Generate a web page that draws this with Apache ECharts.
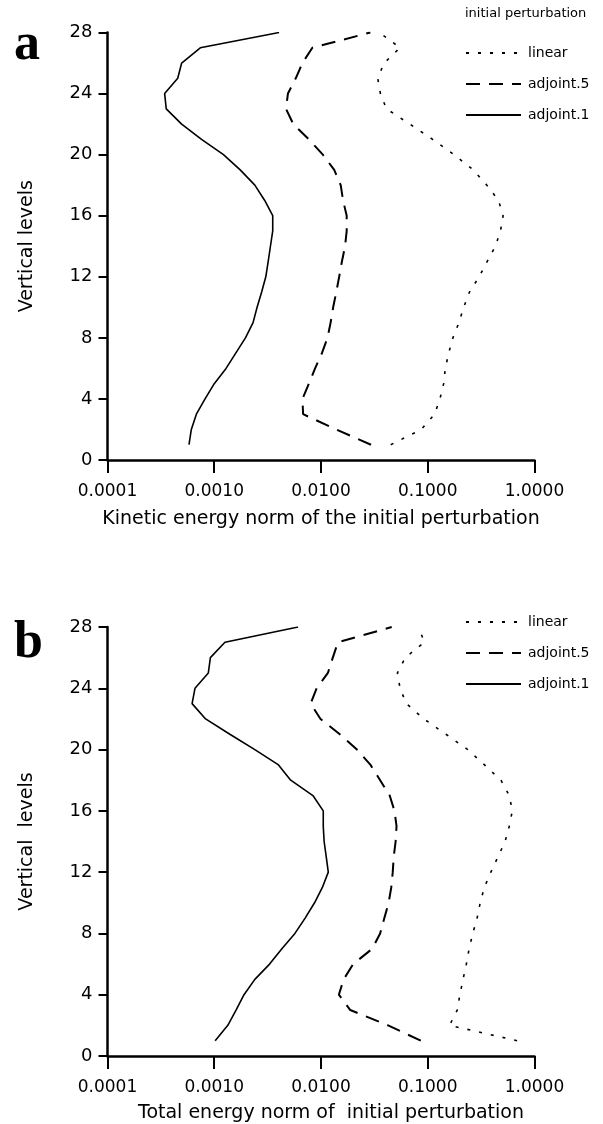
<!DOCTYPE html>
<html>
<head>
<meta charset="utf-8">
<script src="https://cdn.jsdelivr.net/npm/echarts@6/dist/echarts.min.js"></script>
<style>
html,body{margin:0;padding:0;background:#fff;}
#chart{width:603px;height:1124px;}
</style>
</head>
<body>
<div id="chart"></div>
<script>
// Vertical levels (1..28)
const levels = [1,2,3,4,5,6,7,8,9,10,11,12,13,14,15,16,17,18,19,20,21,22,23,24,25,26,27,28];
const xTicks = [0.0001, 0.001, 0.01, 0.1, 1];
const seriesNames = ['linear', 'adjoint.5', 'adjoint.1'];

// Panel a: kinetic energy norm of the initial perturbation
const linearA   = [0.045,0.087,0.116,0.13,0.141,0.146,0.157,0.172,0.196,0.217,0.246,0.303,0.36,0.43,0.48,0.508,0.46,0.358,0.267,0.176,0.111,0.068,0.041,0.036,0.034,0.039,0.055,0.0352];
const adjoint5A = [0.0294,0.0139,0.0068,0.0067,0.0077,0.0088,0.0102,0.0115,0.0123,0.013,0.0139,0.0148,0.0157,0.0168,0.0174,0.0174,0.0161,0.0153,0.0133,0.0104,0.0077,0.0055,0.0047,0.0049,0.0058,0.0067,0.0083,0.029];
const adjoint1A = [0.00058,0.00061,0.00068,0.00082,0.0010,0.00129,0.00159,0.00196,0.00231,0.00252,0.00278,0.00304,0.0032,0.00336,0.00353,0.00353,0.00297,0.0024,0.00175,0.00122,0.00076,0.000495,0.000355,0.000343,0.000455,0.000495,0.00074,0.00405];

// Panel b: total energy norm of initial perturbation
const linearB   = [0.687,0.16,0.189,0.2,0.214,0.23,0.244,0.264,0.29,0.31,0.339,0.39,0.455,0.53,0.58,0.62,0.58,0.485,0.34,0.237,0.148,0.092,0.063,0.055,0.052,0.0615,0.093,0.082];
const adjoint5B = [0.086,0.0425,0.0188,0.0147,0.0163,0.02,0.0302,0.0358,0.0392,0.043,0.0455,0.047,0.048,0.05,0.051,0.0488,0.044,0.0358,0.0291,0.0217,0.015,0.0099,0.008,0.0091,0.0116,0.0129,0.0144,0.046];
const adjoint1B = [0.00102,0.00134,0.0016,0.0019,0.0024,0.0033,0.0043,0.0057,0.0071,0.0087,0.0103,0.0117,0.0112,0.0107,0.0105,0.0105,0.0084,0.0052,0.004,0.0024,0.0014,0.00083,0.00062,0.00066,0.00088,0.00092,0.00126,0.0061];

const xNameA = 'Kinetic energy norm of the initial perturbation';
const xNameB = 'Total energy norm of  initial perturbation';
const yNameA = 'Vertical levels';
const yNameB = 'Vertical  levels';

const FONT = 'DejaVu Sans';
const pairs = (vals) => vals.map((v, i) => [v, levels[i]]);

const styles = {
  'linear':    { width: 1.6, type: [3, 9] },
  'adjoint.5': { width: 2, type: [14, 9] },
  'adjoint.1': { width: 1.6, type: 'solid' }
};

function mkSeries(name, vals, idx) {
  return {
    name: name, type: 'line', xAxisIndex: idx, yAxisIndex: idx,
    data: pairs(vals), symbol: 'none', smooth: false, animation: false,
    lineStyle: { color: '#000', width: styles[name].width, type: styles[name].type },
    itemStyle: { color: '#000' }
  };
}

function mkX(idx, name, nameGap, namePad) {
  return {
    type: 'log', logBase: 10, gridIndex: idx, min: xTicks[0], max: xTicks[xTicks.length - 1],
    axisLine: { show: true, onZero: false, lineStyle: { color: '#000', width: 2.5 } },
    axisTick: { show: true, inside: false, length: 13, lineStyle: { color: '#000', width: 2 } },
    axisLabel: { formatter: (v) => Number(v).toFixed(4), fontSize: 17, color: '#000', fontFamily: FONT, margin: 23 },
    splitLine: { show: false },
    name: name, nameLocation: 'middle', nameGap: nameGap,
    nameTextStyle: { fontSize: 19, color: '#000', fontFamily: FONT, padding: namePad }
  };
}

function mkY(idx, name) {
  return {
    type: 'value', gridIndex: idx, min: 0, max: 28, interval: 4,
    axisLine: { show: true, onZero: false, lineStyle: { color: '#000', width: 2.5 } },
    axisTick: { show: true, inside: false, length: 9, lineStyle: { color: '#000', width: 2 } },
    axisLabel: { fontSize: 18, color: '#000', fontFamily: FONT, margin: 15 },
    splitLine: { show: false },
    name: name, nameLocation: 'middle', nameGap: 71,
    nameTextStyle: { fontSize: 19, color: '#000', fontFamily: FONT }
  };
}

function mkLegend(top) {
  return {
    orient: 'vertical', left: 460, top: top, itemWidth: 55, itemHeight: 14, itemGap: 17,
    selectedMode: false,
    itemStyle: { color: 'rgba(0,0,0,0)', borderColor: 'rgba(0,0,0,0)', borderWidth: 0, opacity: 0 },
    textStyle: { fontSize: 14, color: '#000', fontFamily: FONT, lineHeight: 14, padding: [0, 0, 0, 2] },
    data: seriesNames
  };
}

const option = {
  backgroundColor: '#fff',
  animation: false,
  title: [
    { text: 'initial perturbation', left: 465, top: 7, padding: 0,
      textStyle: { fontSize: 13, fontWeight: 'normal', color: '#000', fontFamily: FONT } },
    { text: 'a', left: 14, top: 20, padding: 0,
      textStyle: { fontSize: 52, fontWeight: 'bold', color: '#000', fontFamily: 'Liberation Serif' } },
    { text: 'b', left: 14, top: 618, padding: 0,
      textStyle: { fontSize: 52, fontWeight: 'bold', color: '#000', fontFamily: 'Liberation Serif' } }
  ],
  legend: [mkLegend(41), mkLegend(610)],
  grid: [
    { left: 107.5, right: 68.5, top: 32.5, bottom: 664 },
    { left: 107.5, right: 68.5, top: 627, bottom: 68 }
  ],
  xAxis: [mkX(0, xNameA, 50, 0), mkX(1, xNameB, 48, [0, 0, 0, 20])],
  yAxis: [mkY(0, yNameA), mkY(1, yNameB)],
  series: [
    mkSeries('linear', linearA, 0),
    mkSeries('adjoint.5', adjoint5A, 0),
    mkSeries('adjoint.1', adjoint1A, 0),
    mkSeries('linear', linearB, 1),
    mkSeries('adjoint.5', adjoint5B, 1),
    mkSeries('adjoint.1', adjoint1B, 1)
  ]
};

const chart = echarts.init(document.getElementById('chart'), null, { renderer: 'canvas' });
chart.setOption(option);
</script>
</body>
</html>
